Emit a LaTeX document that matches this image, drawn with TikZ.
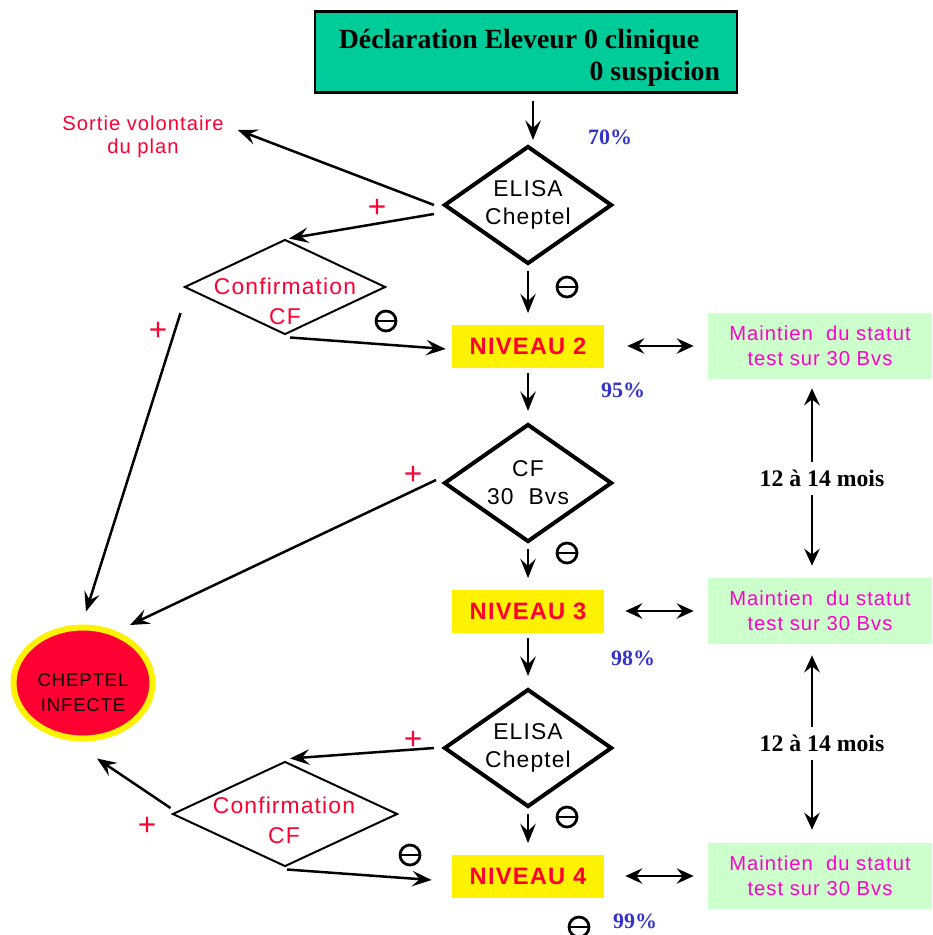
\documentclass[tikz,border=0pt]{standalone}
\usepackage{fontspec}
\setmainfont{Liberation Serif}
\setsansfont{Liberation Sans}
\newfontfamily\sansls[LetterSpace=5]{Liberation Sans}
\usetikzlibrary{shapes.geometric,arrows.meta,calc}
\definecolor{declgreen}{RGB}{0,204,153}
\definecolor{alertred}{RGB}{255,0,51}
\definecolor{statutgreen}{RGB}{204,255,204}
\definecolor{statutpink}{RGB}{255,0,204}
\definecolor{pctblue}{RGB}{51,51,204}

\begin{document}
\begin{tikzpicture}[x=0.2mm,y=-0.2mm,
  arr/.style={line width=0.5mm,-{Stealth[length=3.9mm,width=3.1mm,inset=1.5mm]}},
  dblarr/.style={line width=0.4mm,{Stealth[length=3.4mm,width=3.1mm,inset=1.2mm]}-{Stealth[length=3.4mm,width=3.1mm,inset=1.2mm]}},
  flow/.style={arr,shorten <=1mm,shorten >=2.2mm},
  decl/.style={draw,line width=0.5mm,fill=declgreen,minimum width=84.4mm,minimum height=16.2mm,
    align=right,font=\bfseries\fontsize{15.8}{18}\selectfont},
  test/.style={diamond,draw,line width=0.8mm,aspect=1.42,inner sep=0,minimum width=33.6mm,
    minimum height=23.6mm,align=center,font=\sansls\fontsize{13}{16}\selectfont},
  conf/.style={diamond,draw,line width=0.4mm,inner sep=0},
  conftxt/.style={align=center,text=alertred,font=\sansls\fontsize{13}{17}\selectfont},
  niveau/.style={fill=yellow,minimum width=30.4mm,minimum height=8.6mm,text=alertred,
    font=\sansls\bfseries\fontsize{13.5}{16}\selectfont},
  statut/.style={fill=statutgreen,minimum width=44.8mm,minimum height=13.2mm,align=center,
    text=statutpink,font=\sansls\fontsize{11.5}{14.2}\selectfont},
  pct/.style={text=pctblue,font=\bfseries\fontsize{12.5}{14}\selectfont},
  delai/.style={fill=white,inner xsep=1mm,inner ysep=1.6mm,font=\bfseries\fontsize{13.5}{15}\selectfont},
  infecte/.style={ellipse,draw=yellow,line width=1.2mm,fill=alertred,minimum width=27.8mm,
    minimum height=22.2mm,inner sep=0,align=center,font=\sansls\fontsize{10.5}{14}\selectfont},
  plus/.style={text=alertred,inner sep=0,font=\sffamily\fontsize{18}{18}\selectfont},
  neg/.style={circle,draw,line width=0.55mm,minimum size=4mm,inner sep=0,
    path picture={\draw[line width=0.55mm] ([xshift=-2.2mm]path picture bounding box.center)
      -- ([xshift=2.2mm]path picture bounding box.center);}}]

  \useasboundingbox (0,0) rectangle (932,935);

  % Main column
  \node[decl] (decl) at (526,52) {\rule{0pt}{17.5pt}Déclaration Eleveur 0 clinique\hspace*{2.8mm}\\0 suspicion\hspace*{-1.4mm}};
  \node[test] (elisa1) at (528,205) {ELISA\\Cheptel};
  \node[niveau] (niv2) at (528,346) {NIVEAU 2};
  \node[test] (cf) at (528,483) {CF\\30\ \ Bvs};
  \node[niveau] (niv3) at (528,611) {NIVEAU 3};
  \node[test] (elisa2) at (528,748) {ELISA\\Cheptel};
  \node[niveau] (niv4) at (528,876) {NIVEAU 4};

  % Percentages
  \node[pct] (p70) at (610,137) {70\%};
  \node[pct] (p95) at (623,390) {95\%};
  \node[pct] (p98) at (633,658) {98\%};
  \node[pct] (p99) at (635,921) {99\%};

  % Status boxes on the right
  \node[statut] (statut2) at (820,346) {Maintien\ \ du statut\\test sur 30 Bvs};
  \node[statut] (statut3) at (820,611) {Maintien\ \ du statut\\test sur 30 Bvs};
  \node[statut] (statut4) at (820,876) {Maintien\ \ du statut\\test sur 30 Bvs};

  % Left side
  \node[align=center,text=alertred,font=\sansls\fontsize{11.5}{13}\selectfont] (sortie) at (143,137) {Sortie volontaire\\du plan};
  \node[conf,minimum width=40.2mm,minimum height=19mm] (conf1) at (285,287) {};
  \node[conftxt] (conf1txt) at (285,301) {Confirmation\\CF};
  \node[conf,minimum width=45mm,minimum height=21mm] (conf2) at (285,814) {};
  \node[conftxt] (conf2txt) at (284,820) {Confirmation\\CF};
  \node[infecte] (cheptel) at (83,683) {\rule{0pt}{18pt}CHEPTEL\\INFECTE};

  % Signs
  \node[plus] (plus1) at (377,208) {+};
  \node[plus] (plus2) at (158,331) {+};
  \node[plus] (plus3) at (413,475) {+};
  \node[plus] (plus4) at (413,740) {+};
  \node[plus] (plus5) at (147,826) {+};
  \node[neg] (neg1) at (567,287) {};
  \node[neg] (neg2) at (386,321) {};
  \node[neg] (neg3) at (567,553) {};
  \node[neg] (neg4) at (567,817) {};
  \node[neg] (neg5) at (410,855) {};
  \node[neg] (neg6) at (579,927) {};

  % Arrows down the column
  \draw[arr] ($(decl.south)+(7,7)$) -- ($(elisa1.north)+(5,-4)$);
  \draw[flow] (elisa1) -- (niv2);
  \draw[flow] (niv2) -- (cf);
  \draw[flow] (cf) -- (niv3);
  \draw[flow] (niv3) -- (elisa2);
  \draw[flow] (elisa2) -- (niv4);

  % Positive results
  \draw[arr] ($(elisa1.west)+(-8,0)$) -- ($(sortie.east)+(8,-7)$);
  \draw[arr] ($(elisa1.west)+(-8,9)$) -- ($(conf1.north)+(4,0)$);
  \draw[arr] ($(conf1.west)+(-3,26)$) -- ($(cheptel.north)+(3,-13)$);
  \draw[arr] ($(cf.west)+(-6,-3)$) -- ($(cheptel.center)+(47,-58)$);
  \draw[arr] ($(elisa2.west)+(-8,0)$) -- ($(conf2.north)+(5,-2)$);
  \draw[arr] ($(conf2.west)+(-1,-6)$) -- ($(cheptel.south)+(14,17)$);

  % Negative confirmations
  \draw[arr] ($(conf1.south)+(5,2)$) -- ($(niv2.west)+(-6,3)$);
  \draw[arr] ($(conf2.south)+(2,2)$) -- ($(niv4.west)+(-20,4)$);

  % Status links
  \draw[dblarr,shorten <=4.6mm,shorten >=2.8mm] (niv2) -- (statut2);
  \draw[dblarr,shorten <=4.2mm,shorten >=2.8mm] (niv3) -- (statut3);
  \draw[dblarr,shorten <=4.2mm,shorten >=2.8mm] (niv4) -- (statut4);
  \draw[dblarr,line width=0.5mm,shorten <=1.8mm,shorten >=2.4mm] ($(statut2.south)+(-8,0)$) -- ($(statut3.north)+(-8,0)$)
    node[delai,midway,xshift=2mm] (delai1) {12 à 14 mois};
  \draw[dblarr,line width=0.5mm,shorten <=2.2mm,shorten >=2.6mm] ($(statut3.south)+(-8,0)$) -- ($(statut4.north)+(-8,0)$)
    node[delai,midway,xshift=2mm] (delai2) {12 à 14 mois};
\end{tikzpicture}
\end{document}
